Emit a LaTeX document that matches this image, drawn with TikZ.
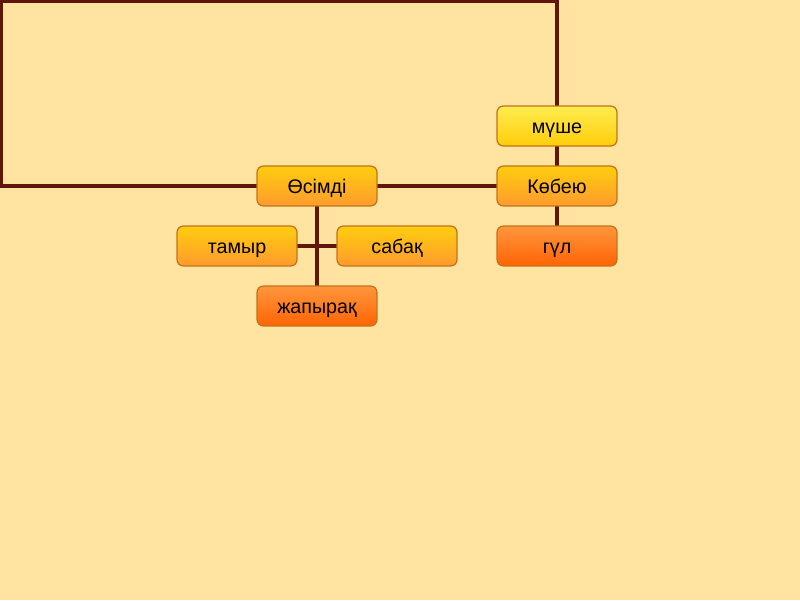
\documentclass[tikz,border=0pt]{standalone}
\usepackage{fontspec}
\setmainfont{Liberation Sans}
\definecolor{bg}{RGB}{255,228,161}
\definecolor{ln}{RGB}{96,22,10}
\definecolor{bd}{RGB}{195,115,25}
\definecolor{yA}{RGB}{255,236,80}
\definecolor{yB}{RGB}{255,205,10}
\definecolor{oA}{RGB}{255,205,15}
\definecolor{oB}{RGB}{255,155,45}
\definecolor{rA}{RGB}{255,150,60}
\definecolor{rB}{RGB}{255,100,5}
\tikzset{
  box/.style={draw=bd, line width=0.9pt, rounded corners=4.5pt, minimum width=85.3pt, minimum height=28.4pt, inner sep=0pt, text height=12.5pt, text depth=1.5pt, font=\fontsize{14}{16}\selectfont},
  ybox/.style={box, top color=yA, bottom color=yB},
  obox/.style={box, top color=oA, bottom color=oB},
  rbox/.style={box, top color=rA, bottom color=rB},
  conn/.style={draw=ln, line width=2.3pt},
}
\begin{document}
\begin{tikzpicture}[x=0.025cm, y=-0.025cm]
\fill[bg] (0,0) rectangle (800,600);
\useasboundingbox (0,0) rectangle (800,600);
\coordinate (c1) at (1.5,186);
\coordinate (c2) at (1.5,1.5);
\coordinate (c3) at (557,1.5);
% connectors first
\path[conn] (317,186) -- (c1) -- (c2) -- (c3) -- (557,266);
\path[conn] (317,186) -- (317,306);
\path[conn] (237,246) -- (397,246);
\path[conn] (317,186) -- (557,186);
\node[ybox] (muse) at (557,126) {мүше};
\node[obox] (osimdi) at (317,186) {Өсімді};
\node[obox] (kobeu) at (557,186) {Көбею};
\node[obox] (tamyr) at (237,246) {тамыр};
\node[obox] (sabaq) at (397,246) {сабақ};
\node[rbox] (gul) at (557,246) {гүл};
\node[rbox] (zhap) at (317,306) {жапырақ};
\end{tikzpicture}
\end{document}
